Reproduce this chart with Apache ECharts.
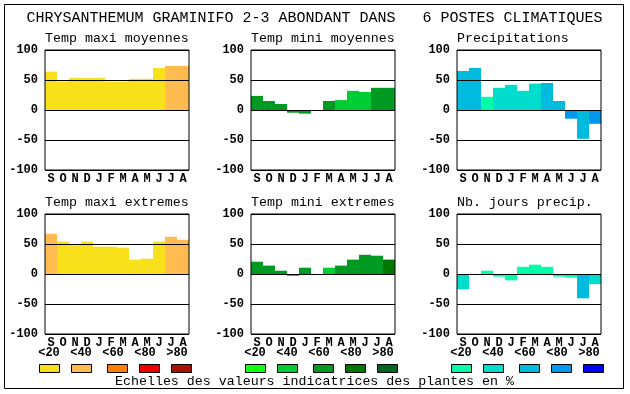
<!DOCTYPE html>
<html><head><meta charset="utf-8">
<script src="https://cdn.jsdelivr.net/npm/echarts@6/dist/echarts.min.js"></script>
<style>html,body{margin:0;padding:0;background:#fff}#c{width:630px;height:394px}</style>
</head><body><div id="c"></div>
<script>
const mainTitle = 'CHRYSANTHEMUM GRAMINIFO 2-3 ABONDANT DANS   6 POSTES CLIMATIQUES';
const footerText = 'Echelles des valeurs indicatrices des plantes en %';
const months = ['S','O','N','D','J','F','M','A','M','J','J','A'];
const yMin = -100, yMax = 100, yStep = 50;
const panelTitles = ['Temp maxi moyennes','Temp mini moyennes','Precipitations','Temp maxi extremes','Temp mini extremes','Nb. jours precip.'];
const scaleLabels = ['<20','<40','<60','<80','>80'];
const yellowScale = ['#f8e11b','#ffbb4f','#ff8000','#ee0000','#aa1100'];
const greenScale = ['#11ff11','#00cc33','#009922','#007700','#006622'];
const blueScale = ['#00ffaa','#00ddcc','#00bbdd','#0099ee','#0000ff'];

const tmaxMoy    = [64, 47.5, 53.5, 53.5, 53.5, 47.5, 47.5, 52, 52, 70, 73.5, 73.5];
const tmaxMoyCls = [0,0,0,0,0,0,0,0,0,0,1,1];
const tminMoy    = [23.5, 15, 10, -4.5, -6, 0, 15, 16.5, 32, 30, 37, 37];
const tminMoyCls = [2,2,2,2,2,2,2,1,1,1,2,2];
const precip     = [65, 70, 22, 37, 42, 32, 44, 45, 15, -14.5, -48, -23];
const precipCls  = [2,2,0,1,1,1,1,2,2,3,2,3];
const tmaxExt    = [67, 54, 48, 54, 45.5, 45.5, 44, 24, 25.5, 54, 62, 57];
const tmaxExtCls = [1,0,0,0,0,0,0,0,0,0,1,1];
const tminExt    = [20.5, 14, 5.5, -3, 10.5, 0, 10.5, 14, 24, 32, 30.5, 24];
const tminExtCls = [2,2,2,2,2,2,1,2,2,2,2,3];
const nbJours    = [-25.5, 0, 5.5, -4.5, -10.5, 12, 15.5, 12, -4.5, -6, -40.5, -17];
const nbJoursCls = [1,0,0,0,0,0,0,0,0,0,2,1];

const panelValues = [tmaxMoy, tminMoy, precip, tmaxExt, tminExt, nbJours];
const panelCls = [tmaxMoyCls, tminMoyCls, precipCls, tmaxExtCls, tminExtCls, nbJoursCls];
const panelScales = [yellowScale, greenScale, blueScale, yellowScale, greenScale, blueScale];

const colLeft = [45, 251, 457];
const rowTop = [50, 214];
const plotW = 144, plotH = 120;
const FONT = '"Liberation Mono", "DejaVu Sans Mono", monospace';

const grids = [], xAxes = [], yAxes = [], series = [], graphics = [];

graphics.push({type:'rect', shape:{x:4.5, y:4.5, width:619, height:384}, style:{fill:'none', stroke:'#000', lineWidth:1}, z:10});
graphics.push({type:'text', style:{text:mainTitle, x:314.5, y:18, font:'15px ' + FONT, fill:'#000', textAlign:'center', textVerticalAlign:'middle'}});

for (let i = 0; i < 6; i++) {
  const c = i % 3, r = Math.floor(i / 3);
  grids.push({left:colLeft[c], top:rowTop[r], width:plotW, height:plotH, show:true, borderColor:'#000', borderWidth:1, backgroundColor:'transparent', z:5});
  xAxes.push({type:'category', gridIndex:i, data:months, axisLine:{show:false, onZero:false}, axisTick:{show:false},
    axisLabel:{interval:0, margin:3, fontFamily:FONT, fontWeight:'bold', fontSize:12, color:'#000'}});
  yAxes.push({type:'value', gridIndex:i, min:yMin, max:yMax, interval:yStep, z:4,
    axisLine:{show:false}, axisTick:{show:false},
    splitLine:{show:true, lineStyle:{color:'#000', width:1}},
    axisLabel:{margin:7, fontFamily:FONT, fontWeight:'bold', fontSize:12, color:'#000'}});
  const vals = panelValues[i], cls = panelCls[i], sc = panelScales[i];
  series.push({type:'bar', xAxisIndex:i, yAxisIndex:i, barCategoryGap:'0%', animation:false, z:2,
    data: vals.map((v, j) => ({value:v, itemStyle:{color:sc[cls[j]]}}))});
  graphics.push({type:'text', style:{text:panelTitles[i], x:colLeft[c], y:rowTop[r] - 12, font:'13.3px ' + FONT, fill:'#000', textAlign:'left', textVerticalAlign:'middle'}});
}

const legendScales = [yellowScale, greenScale, blueScale];
const labelOffsets = [0, 32, 64, 96, 128];
const boxOffsets = [0, 32, 68, 100, 132];
for (let g = 0; g < 3; g++) {
  const x0 = colLeft[g] - 6;
  for (let k = 0; k < 5; k++) {
    graphics.push({type:'text', style:{text:scaleLabels[k], x:x0 + labelOffsets[k] + 10, y:352.5, font:'bold 12px ' + FONT, fill:'#000', textAlign:'center', textVerticalAlign:'middle'}});
    graphics.push({type:'rect', shape:{x:x0 + boxOffsets[k] + 0.5, y:364.5, width:20, height:8}, style:{fill:legendScales[g][k], stroke:'#000', lineWidth:1}});
  }
}
graphics.push({type:'text', style:{text:footerText, x:314.5, y:381, font:'13.3px ' + FONT, fill:'#000', textAlign:'center', textVerticalAlign:'middle'}});

const chart = echarts.init(document.getElementById('c'), null, {renderer:'canvas'});
chart.setOption({animation:false, grid:grids, xAxis:xAxes, yAxis:yAxes, series:series, graphic:graphics});
</script></body></html>
